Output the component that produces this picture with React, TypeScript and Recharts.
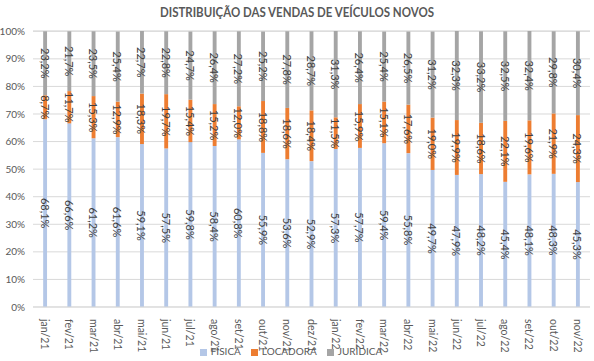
import React from "react";
import {
  BarChart,
  Bar,
  XAxis,
  YAxis,
  CartesianGrid,
  Legend,
  LabelList,
} from "recharts";

const months = [
  "jan/21", "fev/21", "mar/21", "abr/21", "mai/21", "jun/21", "jul/21", "ago/21",
  "set/21", "out/21", "nov/21", "dez/21", "jan/22", "fev/22", "mar/22", "abr/22",
  "mai/22", "jun/22", "jul/22", "ago/22", "set/22", "out/22", "nov/22",
];

const fisica = [
  68.1, 66.6, 61.2, 61.6, 59.1, 57.5, 59.8, 58.4, 60.8, 55.9, 53.6, 52.9,
  57.3, 57.7, 59.4, 55.8, 49.7, 47.9, 48.2, 45.4, 48.1, 48.3, 45.3,
];

const locadora = [
  8.7, 11.7, 15.3, 12.9, 18.3, 19.7, 15.4, 15.2, 12.0, 18.8, 18.6, 18.4,
  11.5, 15.9, 15.1, 17.6, 19.0, 19.9, 18.6, 22.1, 19.6, 21.9, 24.3,
];

const juridica = [
  23.2, 21.7, 23.5, 25.4, 22.7, 22.8, 24.7, 26.4, 27.2, 25.2, 27.8, 28.7,
  31.3, 26.4, 25.4, 26.5, 31.2, 32.3, 33.2, 32.5, 32.4, 29.8, 30.4,
];

const yTicks = [0, 10, 20, 30, 40, 50, 60, 70, 80, 90, 100];
const seriesOrder = ["FÍSICA", "LOCADORA", "JURÍDICA"];

const data = months.map((m, i) => ({
  month: m,
  fisica: fisica[i],
  locadora: locadora[i],
  juridica: juridica[i],
}));

const FONT = "Lato, 'Open Sans', sans-serif";

const fmt = (v: number) => v.toFixed(1).replace(".", ",") + "%";

// rotated value label, centered in its segment
const SegLabel = (props: any) => {
  const vb = props.viewBox || props;
  const cx = Number(vb.x) + Number(vb.width) / 2;
  const cy = Number(vb.y) + Number(vb.height) / 2;
  return (
    <g transform={`translate(${cx} ${cy}) rotate(90)`}>
      <text
        x={0}
        y={0}
        textAnchor="middle"
        dominantBaseline="central"
        fontSize={11}
        fontFamily={FONT}
        fill="#404040"
      >
        {fmt(props.value)}
      </text>
    </g>
  );
};

const MonthTick = (props: any) => {
  const { x, y, payload } = props;
  return (
    <g transform={`translate(${x} ${y + 4}) rotate(90)`}>
      <text
        x={0}
        y={0}
        textAnchor="start"
        dominantBaseline="central"
        fontSize={10.5}
        fontFamily={FONT}
        fill="#595959"
      >
        {payload.value}
      </text>
    </g>
  );
};

export default function App() {
  return (
    <div
      style={{
        position: "absolute",
        left: 0,
        top: 0,
        width: 594,
        height: 361,
        background: "#fff",
        fontFamily: FONT,
      }}
    >
      <div
        style={{
          position: "absolute",
          top: 3,
          left: 0,
          width: 594,
          textAlign: "center",
          fontSize: 14,
          fontWeight: 700,
          color: "#595959",
          transform: "scaleX(0.82)",
          transformOrigin: "297px 0",
        }}
      >
        DISTRIBUIÇÃO DAS VENDAS DE VEÍCULOS NOVOS
      </div>
      <BarChart
        width={594}
        height={361}
        data={data}
        margin={{ top: 31, right: 4, bottom: 0, left: 2 }}
        barCategoryGap="58%"
      >
        <CartesianGrid vertical={false} stroke="#D9D9D9" />
        <XAxis
          dataKey="month"
          interval={0}
          height={38}
          tickLine={false}
          axisLine={{ stroke: "#D9D9D9" }}
          tick={<MonthTick />}
        />
        <YAxis
          width={31}
          domain={[0, 100]}
          ticks={yTicks}
          tickFormatter={(v: number) => `${v}%`}
          axisLine={false}
          tickLine={false}
          tick={{ fontSize: 10, fill: "#595959", fontFamily: FONT }}
        />
        <Legend
          verticalAlign="bottom"
          height={16}
          iconType="square"
          iconSize={7}
          itemSorter={(item: any) => seriesOrder.indexOf(item.value)}
          wrapperStyle={{ fontSize: 10, fontFamily: FONT, color: "#595959" }}
          formatter={(v: string) => <span style={{ color: "#595959" }}>{v}</span>}
        />
        <Bar dataKey="fisica" name="FÍSICA" stackId="a" fill="#B4C7E7" isAnimationActive={false}>
          <LabelList dataKey="fisica" content={<SegLabel />} />
        </Bar>
        <Bar dataKey="locadora" name="LOCADORA" stackId="a" fill="#ED7D31" isAnimationActive={false}>
          <LabelList dataKey="locadora" content={<SegLabel />} />
        </Bar>
        <Bar dataKey="juridica" name="JURÍDICA" stackId="a" fill="#A5A5A5" isAnimationActive={false}>
          <LabelList dataKey="juridica" content={<SegLabel />} />
        </Bar>
      </BarChart>
    </div>
  );
}
